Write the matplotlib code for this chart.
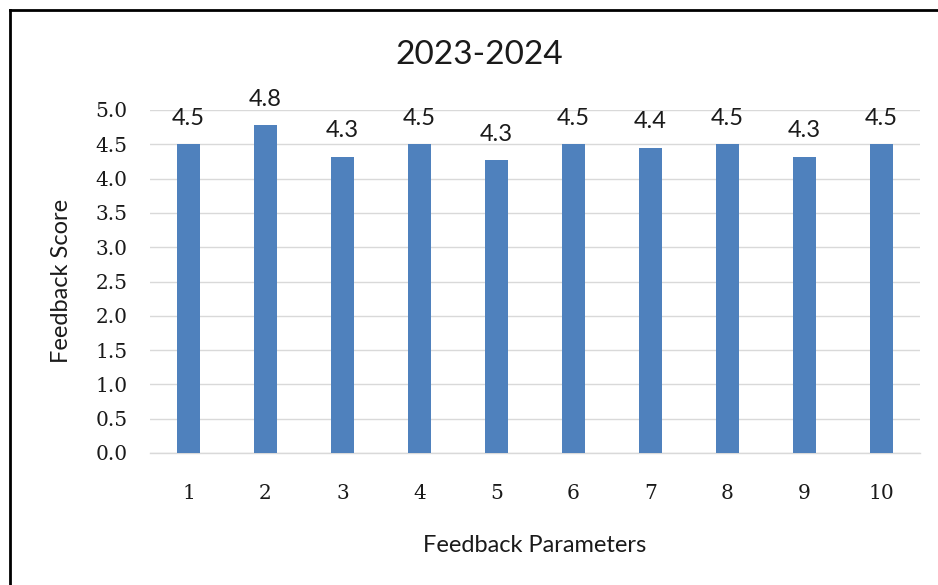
import matplotlib
matplotlib.use("Agg")
import matplotlib.pyplot as plt
from matplotlib.lines import Line2D

categories = ["1", "2", "3", "4", "5", "6", "7", "8", "9", "10"]
scores = [4.5, 4.78, 4.32, 4.5, 4.27, 4.5, 4.45, 4.5, 4.32, 4.5]
labels = ["4.5", "4.8", "4.3", "4.5", "4.3", "4.5", "4.4", "4.5", "4.3", "4.5"]
yticks = [0.0, 0.5, 1.0, 1.5, 2.0, 2.5, 3.0, 3.5, 4.0, 4.5, 5.0]
title = "2023-2024"
xlabel = "Feedback Parameters"
ylabel = "Feedback Score"

W, H = 938, 585
fig = plt.figure(figsize=(W / 100, H / 100), dpi=100)
fig.patch.set_facecolor("white")

ax = fig.add_axes([150 / W, (H - 453) / H, (920 - 150) / W, (453 - 110) / H])
x = list(range(len(categories)))
ax.bar(x, scores, width=0.3, color="#4F81BD", zorder=3)
ax.set_xlim(-0.5, len(categories) - 0.5)
ax.set_ylim(0, 5.0)
ax.set_yticks(yticks)
ax.set_yticklabels([f"{v:.1f}" for v in yticks], family="DejaVu Serif", fontsize=14.5, color="#1a1a1a")
ax.set_xticks(x)
ax.set_xticklabels(categories, family="DejaVu Serif", fontsize=14.5, color="#1a1a1a")
ax.tick_params(axis="y", length=0, pad=16)
ax.tick_params(axis="x", length=0, pad=22)
ax.grid(axis="y", color="#d9d9d9", linewidth=1.0, zorder=0)
for s in ["top", "right", "left"]:
    ax.spines[s].set_visible(False)
ax.spines["bottom"].set_color("#d9d9d9")
ax.spines["bottom"].set_linewidth(1.0)

for xi, v, lab in zip(x, scores, labels):
    ax.annotate(lab, (xi, v), xytext=(0, 11), textcoords="offset points",
                ha="center", va="bottom", family="Lato", fontsize=17, color="#1a1a1a")

fig.text(62 / W, 1 - 281 / H, ylabel, rotation=90, ha="center", va="center",
         family="Lato", fontsize=17, color="#1a1a1a")
fig.text(535 / W, 1 - 545 / H, xlabel, ha="center", va="center",
         family="Lato", fontsize=17, color="#1a1a1a")
fig.text(479 / W, 1 - 55 / H, title, ha="center", va="center", family="Lato", fontsize=24, color="#1a1a1a")

# outer frame (left and top edges)
fig.add_artist(Line2D([10 / W, 10 / W], [0, 1 - 10 / H], transform=fig.transFigure, color="black", linewidth=2))
fig.add_artist(Line2D([10 / W, 1], [1 - 10 / H, 1 - 10 / H], transform=fig.transFigure, color="black", linewidth=2))

fig.savefig("out.png", dpi=100)
